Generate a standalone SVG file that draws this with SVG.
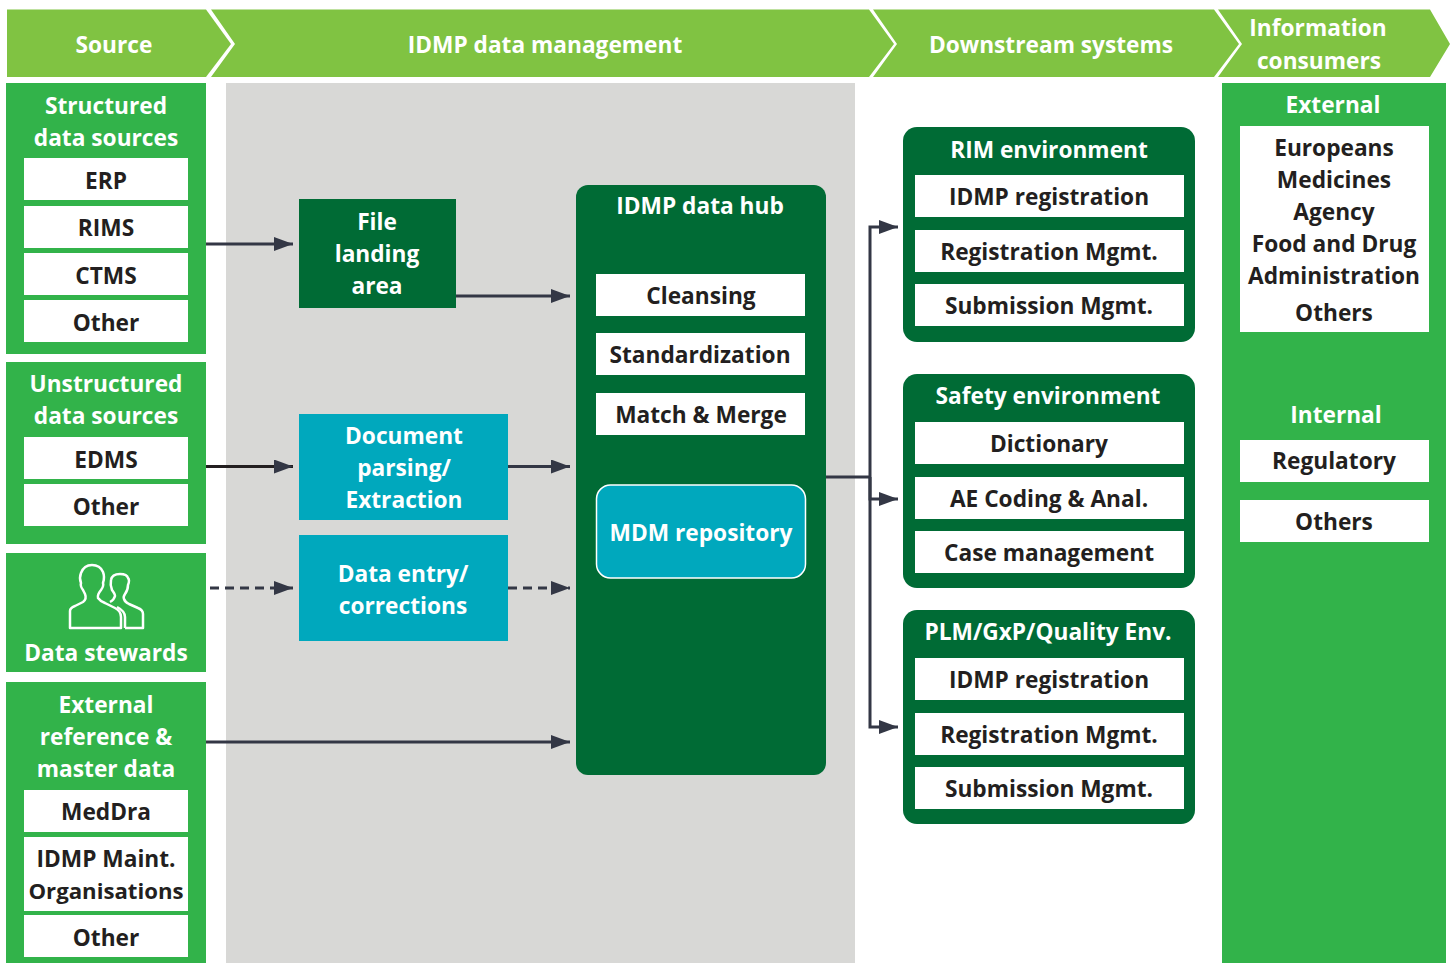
<svg xmlns="http://www.w3.org/2000/svg" width="1455" height="963" viewBox="0 0 1455 963">
<style>
text{font-family:"Open Sans","Noto Sans","Liberation Sans",sans-serif;font-weight:700;font-size:22.700px;text-anchor:middle}
.w{fill:#fff}.d{fill:#231f20}
.hd{fill:#80c342}.g{fill:#32b34a}.dg{fill:#006b35}.t{fill:#00a8bd}.b{fill:#fff}
.c{fill:none;stroke:#333745;stroke-width:3}
.dash{stroke-dasharray:9 6}
</style>
<defs><marker id="a" markerUnits="userSpaceOnUse" markerWidth="20" markerHeight="14" refX="19" refY="7" orient="auto"><path d="M0 0L19 7L0 14Z" fill="#333745"/></marker></defs>
<rect x="226" y="83" width="629" height="880" fill="#d8d8d6"/>
<g id="header">
<polygon class="hd" points="7,9.500 206,9.500 231,44 206,77 7,77"/>
<polygon class="hd" points="211,9.500 869,9.500 894,44 869,77 211,77 235,44"/>
<polygon class="hd" points="873,9.500 1214,9.500 1239,44 1214,77 873,77 897,44"/>
<polygon class="hd" points="1218,9.500 1430,9.500 1450,44 1430,77 1218,77 1242,44"/>
<text class="w" x="114" y="53">Source</text>
<text class="w" x="545" y="53">IDMP data management</text>
<text class="w" x="1051" y="53">Downstream systems</text>
<text class="w" x="1318" y="36">Information</text>
<text class="w" x="1319" y="69">consumers</text>
</g>
<g id="structured">
<rect class="g" x="6" y="83" width="200" height="271"/>
<text class="w" x="106" y="114">Structured</text><text class="w" x="106" y="146">data sources</text>
<rect class="b" x="24" y="158" width="164" height="42"/><text class="d" x="106" y="189">ERP</text>
<rect class="b" x="24" y="206" width="164" height="42"/><text class="d" x="106" y="236">RIMS</text>
<rect class="b" x="24" y="253" width="164" height="42"/><text class="d" x="106" y="284">CTMS</text>
<rect class="b" x="24" y="300" width="164" height="42"/><text class="d" x="106" y="331">Other</text>
</g>
<g id="unstructured">
<rect class="g" x="6" y="362" width="200" height="182"/>
<text class="w" x="106" y="392">Unstructured</text><text class="w" x="106" y="424">data sources</text>
<rect class="b" x="24" y="437" width="164" height="42"/><text class="d" x="106" y="468">EDMS</text>
<rect class="b" x="24" y="484" width="164" height="42"/><text class="d" x="106" y="515">Other</text>
</g>
<g id="stewards">
<rect class="g" x="6" y="553" width="200" height="119"/>
<path d="M70 628V611Q70 608 75 606L83 602Q87 599 85 594L83 590Q80 586 81 583Q79 578 81 573Q84 565 92 565Q100 565 103 572Q105 577 103 583Q104 586 101 590Q97 595 98 598Q100 601 105 603L115 608Q121 611 121 617V628Z" fill="none" stroke="#fff" stroke-width="2.500" stroke-linejoin="round"/>
<path d="M125 628H143V614Q143 610 138 608L129 604Q125 602 124 599Q123 597 125 594Q128 590 128 585Q130 580 128 578Q127 574 120 574Q112 574 111 580Q110 585 112 590Q115 594 115 596Q114 600 110 602M117 607Q125 611 125 617V628" fill="none" stroke="#fff" stroke-width="2.500" stroke-linejoin="round"/>
<text class="w" x="106" y="661">Data stewards</text>
</g>
<g id="external-ref">
<rect class="g" x="6" y="682" width="200" height="281"/>
<text class="w" x="106" y="713">External</text><text class="w" x="106" y="745">reference &amp;</text><text class="w" x="106" y="777">master data</text>
<rect class="b" x="24" y="790" width="164" height="42"/><text class="d" x="106" y="820">MedDra</text>
<rect class="b" x="24" y="837" width="164" height="74"/><text class="d" x="106" y="867">IDMP Maint.</text><text class="d" x="106" y="899" style="font-size:22.200px">Organisations</text>
<rect class="b" x="24" y="915" width="164" height="42"/><text class="d" x="106" y="946">Other</text>
</g>
<g id="file-landing">
<rect class="dg" x="299" y="199" width="157" height="109"/>
<text class="w" x="377" y="230">File</text><text class="w" x="377" y="262">landing</text><text class="w" x="377" y="294">area</text>
</g>
<g id="doc-parsing">
<rect class="t" x="299" y="414" width="209" height="106"/>
<text class="w" x="404" y="444">Document</text><text class="w" x="404" y="476">parsing/</text><text class="w" x="404" y="508">Extraction</text>
</g>
<g id="data-entry">
<rect class="t" x="299" y="535" width="209" height="106"/>
<text class="w" x="403" y="582">Data entry/</text><text class="w" x="403" y="614">corrections</text>
</g>
<g id="hub">
<rect class="dg" x="576" y="185" width="250" height="590" rx="12"/>
<text class="w" x="700" y="214">IDMP data hub</text>
<rect class="b" x="596" y="274" width="209" height="42"/><text class="d" x="701" y="304">Cleansing</text>
<rect class="b" x="596" y="333" width="209" height="42"/><text class="d" x="700" y="363">Standardization</text>
<rect class="b" x="596" y="393" width="209" height="42"/><text class="d" x="701" y="423">Match &amp; Merge</text>
<rect class="t" x="596.500" y="485" width="209" height="93" rx="14" stroke="#fff" stroke-width="1.500"/>
<text class="w" x="701" y="541">MDM repository</text>
</g>
<g id="rim">
<rect class="dg" x="903" y="127" width="292" height="215" rx="14"/>
<text class="w" x="1049" y="158">RIM environment</text>
<rect class="b" x="915" y="175" width="269" height="42"/><text class="d" x="1049" y="205">IDMP registration</text>
<rect class="b" x="915" y="230" width="269" height="42"/><text class="d" x="1049" y="260">Registration Mgmt.</text>
<rect class="b" x="915" y="284" width="269" height="42"/><text class="d" x="1049" y="314">Submission Mgmt.</text>
</g>
<g id="safety">
<rect class="dg" x="903" y="374" width="292" height="214" rx="14"/>
<text class="w" x="1048" y="404">Safety environment</text>
<rect class="b" x="915" y="422" width="269" height="42"/><text class="d" x="1049" y="452">Dictionary</text>
<rect class="b" x="915" y="477" width="269" height="42"/><text class="d" x="1049" y="507">AE Coding &amp; Anal.</text>
<rect class="b" x="915" y="531" width="269" height="42"/><text class="d" x="1049" y="561">Case management</text>
</g>
<g id="plm">
<rect class="dg" x="903" y="610" width="292" height="214" rx="14"/>
<text class="w" x="1048" y="640">PLM/GxP/Quality Env.</text>
<rect class="b" x="915" y="658" width="269" height="42"/><text class="d" x="1049" y="688">IDMP registration</text>
<rect class="b" x="915" y="713" width="269" height="42"/><text class="d" x="1049" y="743">Registration Mgmt.</text>
<rect class="b" x="915" y="767" width="269" height="42"/><text class="d" x="1049" y="797">Submission Mgmt.</text>
</g>
<g id="consumers">
<rect class="g" x="1222" y="83" width="224" height="880"/>
<text class="w" x="1333" y="113">External</text>
<rect class="b" x="1240" y="126" width="189" height="206"/>
<text class="d" x="1334" y="156">Europeans</text><text class="d" x="1334" y="188">Medicines</text><text class="d" x="1334" y="220">Agency</text><text class="d" x="1334" y="252">Food and Drug</text><text class="d" x="1334" y="284">Administration</text><text class="d" x="1334" y="321">Others</text>
<text class="w" x="1336" y="423">Internal</text>
<rect class="b" x="1240" y="440" width="189" height="42"/><text class="d" x="1334" y="469">Regulatory</text>
<rect class="b" x="1240" y="500" width="189" height="42"/><text class="d" x="1334" y="530">Others</text>
</g>
<g id="connectors">
<path class="c" d="M206 244H293" marker-end="url(#a)"/>
<path class="c" d="M456 296H570" marker-end="url(#a)"/>
<path class="c" d="M206 466.500H293" marker-end="url(#a)" style="stroke:#231f20"/>
<path class="c" d="M508 466.500H570" marker-end="url(#a)"/>
<path class="c dash" d="M210 588H293" marker-end="url(#a)"/>
<path class="c dash" d="M508 588H570" marker-end="url(#a)"/>
<path class="c" d="M206 742H570" marker-end="url(#a)"/>
<path class="c" d="M826 477H870"/>
<path class="c" d="M870 477V227H898" marker-end="url(#a)"/>
<path class="c" d="M870 477V499H898" marker-end="url(#a)"/>
<path class="c" d="M870 477V727H898" marker-end="url(#a)"/>
</g>
</svg>
